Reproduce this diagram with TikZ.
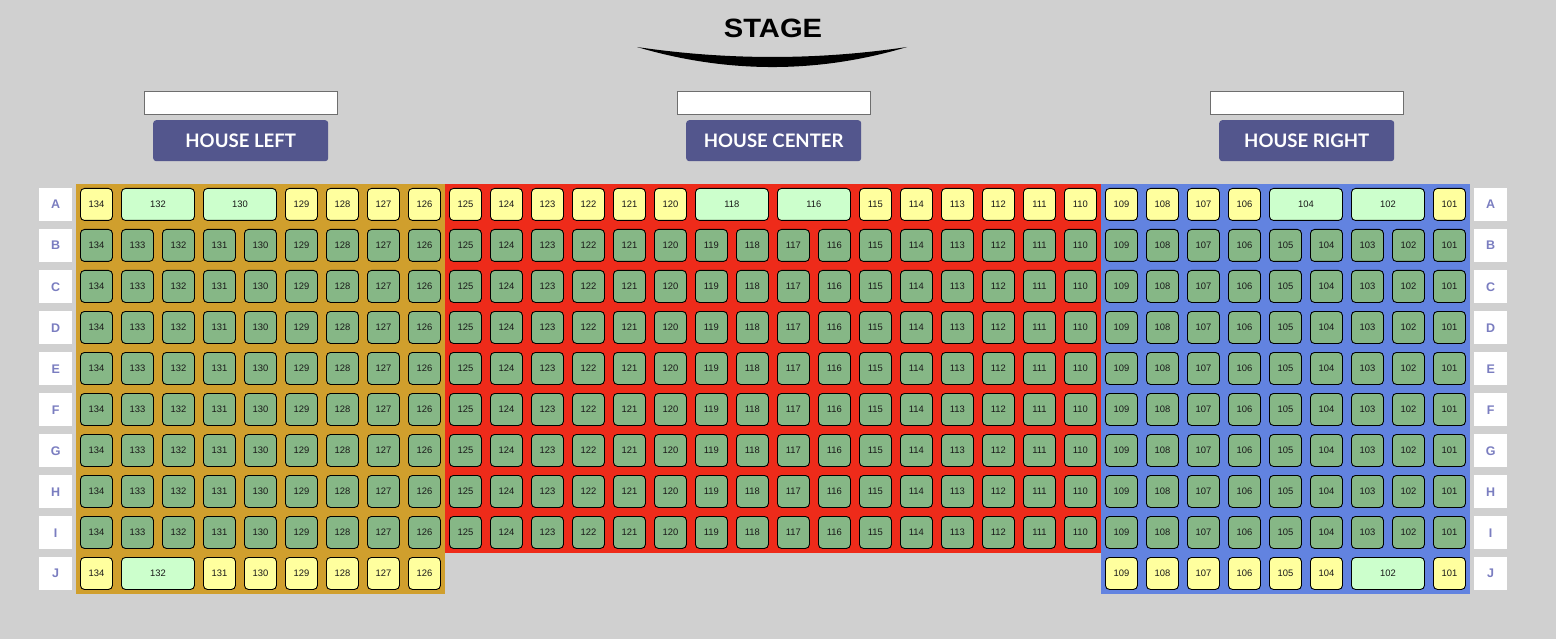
\documentclass[tikz,border=0pt]{standalone}
\usepackage{fontspec}
\setmainfont{Liberation Sans}
\newfontfamily\latofont{Lato}
\definecolor{bgc}{HTML}{D0D0D0}
\definecolor{goldp}{HTML}{D09F2D}
\definecolor{redp}{HTML}{EE2B1A}
\definecolor{bluep}{HTML}{6283E0}
\definecolor{seatg}{HTML}{86B786}
\definecolor{seaty}{HTML}{FFFF9E}
\definecolor{seatl}{HTML}{CCFFCC}
\definecolor{btnc}{HTML}{53568D}
\definecolor{lblc}{HTML}{7A7DC0}
\definecolor{boxc}{HTML}{6E6E6E}
\begin{document}
\begin{tikzpicture}[x=1pt,y=-1pt,
  seat/.style={draw=black, line width=0.9pt, rounded corners=4pt, minimum width=32pt, minimum height=32pt, inner sep=0pt, anchor=north west, text=black!90, font=\fontsize{9.4}{10}\selectfont},
  gseat/.style={seat, fill=seatg},
  yseat/.style={seat, fill=seaty},
  wseat/.style={seat, fill=seatl, minimum width=73pt},
  rowlbl/.style={fill=white, minimum width=33pt, minimum height=33pt, inner sep=0pt, anchor=north west, text=lblc, font=\fontsize{12.5}{14}\selectfont\bfseries},
  hbox/.style={draw=boxc, line width=0.9pt, fill=white, minimum width=193pt, minimum height=23pt, inner sep=0pt, anchor=north west},
  hbtn/.style={fill=btnc, rounded corners=3pt, minimum width=175pt, minimum height=41pt, inner sep=0pt, anchor=north west, text=white, font=\latofont\bfseries\fontsize{18.6}{20}\selectfont},
  panel/.style={draw=none}
]
\useasboundingbox (0,0) rectangle (1556,639);
\fill[bgc] (0,0) rectangle (1556,639);

% stage
\node[font=\bfseries\fontsize{26.5}{28}\selectfont, inner sep=0pt] (stage) at (773,28) {\scalebox{1.1}[1]{STAGE}};
\fill[black] (637,47) .. controls (727,60.3) and (818,60.3) .. (907,47)
  .. controls (818,73.7) and (727,73.7) .. (637,47) -- cycle;

% header boxes and buttons
\node[hbox] (boxL) at (143.5,91) {};
\node[hbox] (boxC) at (676.5,91) {};
\node[hbox] (boxR) at (1209.5,91) {};
\node[hbtn] (btnL) at (153,120) {HOUSE LEFT};
\node[hbtn] (btnC) at (686,120) {HOUSE CENTER};
\node[hbtn] (btnR) at (1219,120) {HOUSE RIGHT};

% panels
\fill[goldp] (76,184) rectangle (445,593.5);
\fill[redp] (445,184) rectangle (1101,553);
\fill[bluep] (1101,184) rectangle (1470,593.5);

% row labels
\foreach \L [count=\i from 0] in {A,B,C,D,E,F,G,H,I,J}{
  \node[rowlbl] (lblL-\L) at (39,{188+41*\i}) {\L};
  \node[rowlbl] (lblR-\L) at (1474,{188+41*\i}) {\L};
}

% green rows B..I
\foreach \L [count=\i] in {B,C,D,E,F,G,H,I}{
  \foreach \c in {0,...,8}{
    \pgfmathtruncatemacro\n{134-\c}
    \node[gseat] (L-\L-\n) at ({80+41*\c},{188+41*\i}) {\n};
    \pgfmathtruncatemacro\m{109-\c}
    \node[gseat] (R-\L-\m) at ({1105+41*\c},{188+41*\i}) {\m};
  }
  \foreach \c in {0,...,15}{
    \pgfmathtruncatemacro\n{125-\c}
    \node[gseat] (C-\L-\n) at ({449+41*\c},{188+41*\i}) {\n};
  }
}

% row A
\foreach \c/\n/\s in {0/134/yseat,1/132/wseat,3/130/wseat,5/129/yseat,6/128/yseat,7/127/yseat,8/126/yseat}{
  \node[\s] (L-A-\n) at ({80+41*\c},188) {\n};
}
\foreach \c/\n/\s in {0/125/yseat,1/124/yseat,2/123/yseat,3/122/yseat,4/121/yseat,5/120/yseat,6/118/wseat,8/116/wseat,10/115/yseat,11/114/yseat,12/113/yseat,13/112/yseat,14/111/yseat,15/110/yseat}{
  \node[\s] (C-A-\n) at ({449+41*\c},188) {\n};
}
\foreach \c/\n/\s in {0/109/yseat,1/108/yseat,2/107/yseat,3/106/yseat,4/104/wseat,6/102/wseat,8/101/yseat}{
  \node[\s] (R-A-\n) at ({1105+41*\c},188) {\n};
}

% row J
\foreach \c/\n/\s in {0/134/yseat,1/132/wseat,3/131/yseat,4/130/yseat,5/129/yseat,6/128/yseat,7/127/yseat,8/126/yseat}{
  \node[\s] (L-J-\n) at ({80+41*\c},557) {\n};
}
\foreach \c/\n/\s in {0/109/yseat,1/108/yseat,2/107/yseat,3/106/yseat,4/105/yseat,5/104/yseat,6/102/wseat,8/101/yseat}{
  \node[\s] (R-J-\n) at ({1105+41*\c},557) {\n};
}
\end{tikzpicture}
\end{document}
